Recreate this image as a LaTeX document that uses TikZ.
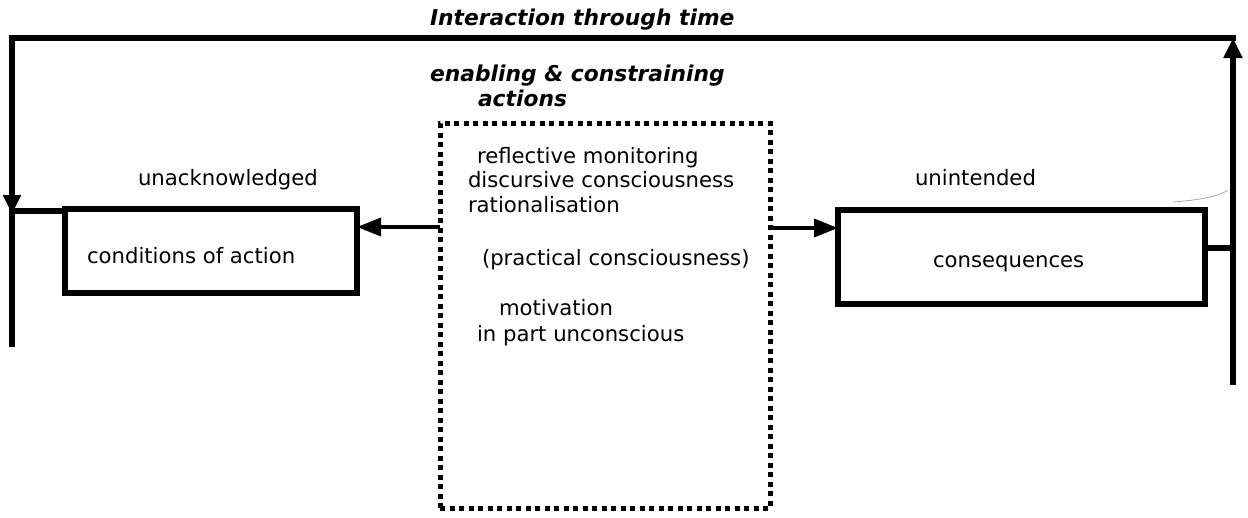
\documentclass[tikz,border=0pt]{standalone}
\usepackage{fontspec}
\setmainfont{DejaVu Sans}
\usetikzlibrary{arrows.meta}
\begin{document}
\begin{tikzpicture}[x=1pt,y=-1pt,
  every node/.style={inner sep=0pt, outer sep=0pt},
  txt/.style={anchor=base west, font=\fontsize{21.2}{25}\selectfont},
  ttl/.style={anchor=base west, font=\fontsize{21.8}{26}\selectfont\bfseries\itshape},
  solidbox/.style={draw, line width=5.2pt, rectangle},
  dotbox/.style={draw, line width=5pt, dash pattern=on 5pt off 4.5pt, rectangle},
  line/.style={line width=5.4pt, line cap=rect},
  arr/.style={line width=3.6pt, -{Triangle[length=24pt,width=18pt]}},
  bigarr/.style={line width=5.4pt, -{Triangle[length=20pt,width=18pt]}}
]
\useasboundingbox (0,0) rectangle (1248,517);

% boxes
\node[solidbox, minimum width=292pt, minimum height=84pt] (cond) at (211,251) {};
\node[solidbox, minimum width=367pt, minimum height=94pt] (cons) at (1021.5,257) {};
\node[dotbox, minimum width=330pt, minimum height=385pt] (mid) at (605,315.5) {};

% loop coordinates
\coordinate (lt) at (12,38);
\coordinate (lj) at (12,214);
\coordinate (lb) at (12,347);
\coordinate (rt) at (1233,38);
\coordinate (rb) at (1233,385);
\coordinate (rj) at (1233,248);

% connectors
\draw[arr] (mid.west |- 0,227) -- (cond.east |- 0,227);
\draw[arr] (mid.east |- 0,228) -- (cons.west |- 0,228);
\draw[line] (cons.east |- rj) -- (rj);
\draw[bigarr] (rb) -- (rt);
\draw[line] (rt) -- (lt);
\draw[line, line cap=butt, -{Triangle[length=19pt,width=17pt]}] (lt) -- (lj);
\draw[line, line cap=butt] (12,205) -- (lb);
\draw[line, line cap=butt] (12,211) -- (cond.west |- 0,211);

% faint scan mark
\draw[gray!70, line width=0.8pt] (1173,202) .. controls (1200,200) and (1220,196) .. (1228,190);

% texts
\node[ttl] (t1) at (430,25) {Interaction through time};
\node[ttl] (t2) at (430,81.7) {enabling \& constraining};
\node[ttl] (t3) at (478,106) {actions};

\node[txt] (ua) at (138,185) {unacknowledged};
\node[txt] (ca) at (87,263) {conditions of action};
\node[txt] (ui) at (915,185) {unintended};
\node[txt] (cq) at (933,267) {consequences};

\node[txt] (m1) at (477,163) {reflective monitoring};
\node[txt] (m2) at (468,187) {discursive consciousness};
\node[txt] (m3) at (468,212) {rationalisation};
\node[txt] (m4) at (482,265) {(practical consciousness)};
\node[txt] (m5) at (499,315) {motivation};
\node[txt] (m6) at (477,341) {in part unconscious};
\end{tikzpicture}
\end{document}
